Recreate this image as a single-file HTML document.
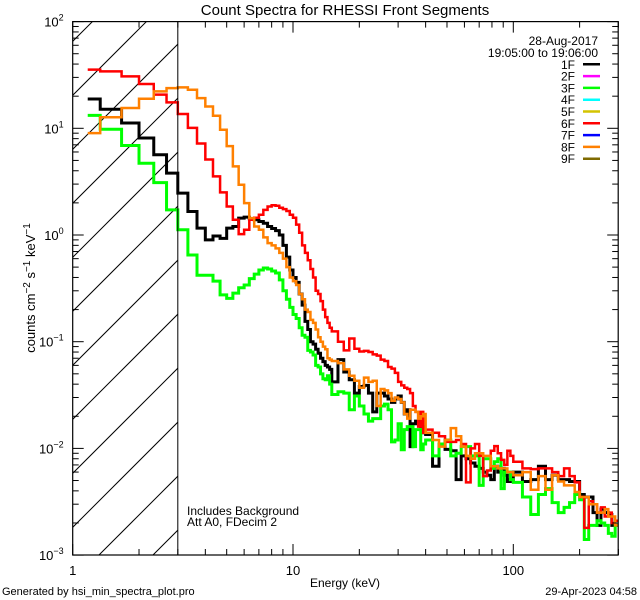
<!DOCTYPE html>
<html><head><meta charset="utf-8">
<style>
html,body{margin:0;padding:0;background:#fff;}
svg{display:block;font-family:"Liberation Sans",sans-serif;}
</style></head>
<body>
<svg id="chart" width="640" height="600" viewBox="0 0 640 600" xmlns="http://www.w3.org/2000/svg">
<defs><clipPath id="plotclip"><rect x="72.7" y="21.6" width="545.5" height="533.4"/></clipPath>
<clipPath id="hatchclip"><rect x="72.7" y="21.6" width="104.8" height="533.4"/></clipPath></defs>
<rect width="640" height="600" fill="#fff"/>
<text x="345" y="15" font-size="15" text-anchor="middle">Count Spectra for RHESSI Front Segments</text>
<g id="hatch" clip-path="url(#hatchclip)"></g>
<g id="series" clip-path="url(#plotclip)"></g>
<g id="axes"></g>
<text transform="translate(35,288) rotate(-90)" font-size="13" text-anchor="middle">counts cm<tspan dy="-5" font-size="10">−2</tspan><tspan dy="5"> s</tspan><tspan dy="-5" font-size="10">−1</tspan><tspan dy="5"> keV</tspan><tspan dy="-5" font-size="10">−1</tspan></text>
<text x="345" y="587" font-size="12" text-anchor="middle">Energy (keV)</text>
<text x="187" y="515" font-size="12">Includes Background</text>
<text x="187" y="526" font-size="12">Att A0, FDecim 2</text>
<text x="2" y="595" font-size="11">Generated by hsi_min_spectra_plot.pro</text>
<text x="637" y="595" font-size="11" text-anchor="end">29-Apr-2023 04:58</text>
<text x="598" y="45" font-size="12" text-anchor="end">28-Aug-2017</text>
<text x="598" y="57" font-size="12" text-anchor="end">19:05:00 to 19:06:00</text>
<g id="legend"></g>
</svg>
<script>
const edges = [1.17,1.3333,1.6667,2,2.3333,2.6667,3,3.3333,3.6667,4,4.3333,4.6667,5,5.3333,5.6667,6,6.3333,6.6667,7,7.3333,7.6667,8,8.3333,8.6667,9,9.3333,9.6667,10,10.3333,10.6667,11,11.3333,11.6667,12,12.3333,12.6667,13,13.3333,13.6667,14,14.3333,14.6667,15,
16,17,18,19,20,21,22,23,24,25,26,27,28,29,30,31,32,33,34,35,36,37,38,39,40,
43,46,49,52,55,58,61,64,67,70,73,76,79,82,85,88,91,94,97,100,
110,120,130,140,150,160,170,180,190,200,210,220,230,240,250,260,270,280,290,300];
const seg1F = [18.8,15.1,11.2,8.1,5.65,3.8,2.47,1.66,1.16,0.90,0.98,0.93,1.16,1.20,1.44,1.47,1.42,1.39,1.34,1.29,1.2,1.15,1.1,1.0,0.8,0.62,0.47,0.4,0.36,0.28,0.22,0.155,0.13,0.1,0.095,0.085,0.078,0.07,0.065,0.06,0.058,0.055,
0.042,0.068,0.052,0.044,0.033,0.038,0.039,0.033,0.022,0.033,0.033,0.031,0.029,0.027,0.029,0.031,0.027,0.021,0.023,0.0104,0.017,0.018,0.018,0.016,0.014,
0.0135,0.0068,0.011,0.0098,0.0095,0.0051,0.0085,0.008,0.0073,0.0068,0.0065,0.006,0.0056,0.0051,0.0068,0.006,0.0065,0.0056,0.0049,0.0051,
0.006,0.0049,0.0051,0.0068,0.0051,0.0056,0.0051,0.0051,0.0049,0.0049,0.0037,0.0035,0.0035,0.0025,0.0019,0.0027,0.0025,0.0024,0.0019,0.0019];
const seg3F = [13.2,9.8,6.9,4.7,3.1,1.72,1.12,0.65,0.42,0.42,0.37,0.275,0.255,0.285,0.32,0.34,0.39,0.43,0.47,0.49,0.48,0.46,0.44,0.38,0.30,0.25,0.21,0.18,0.165,0.135,0.115,0.11,0.083,0.08,0.075,0.06,0.058,0.05,0.045,0.044,0.048,0.04,
0.032,0.034,0.033,0.023,0.031,0.025,0.021,0.018,0.019,0.019,0.025,0.026,0.023,0.0115,0.012,0.017,0.0097,0.015,0.016,0.016,0.0104,0.015,0.015,0.0097,0.011,
0.012,0.0085,0.011,0.012,0.0085,0.009,0.0104,0.0104,0.0085,0.0085,0.0045,0.008,0.008,0.0065,0.0075,0.008,0.0042,0.006,0.006,0.0051,
0.0048,0.0035,0.0024,0.0037,0.0042,0.0031,0.0025,0.0028,0.0031,0.0037,0.0033,0.0014,0.0019,0.0019,0.0021,0.002,0.0019,0.0016,0.0015,0.0019];
const seg6F = [35.5,34.2,30.7,26,20.7,17.5,13.6,10.1,7.2,5.1,3.54,2.51,1.85,1.39,1.02,1.12,1.39,1.45,1.55,1.72,1.85,1.9,1.88,1.8,1.75,1.68,1.55,1.45,1.25,1.05,0.8,0.68,0.58,0.48,0.4,0.3,0.28,0.24,0.2,0.17,0.15,0.135,
0.125,0.10,0.083,0.107,0.086,0.081,0.082,0.08,0.076,0.074,0.068,0.066,0.058,0.056,0.051,0.042,0.039,0.037,0.036,0.033,0.025,0.022,0.016,0.022,0.014,
0.015,0.014,0.013,0.0115,0.0115,0.012,0.011,0.0048,0.010,0.011,0.0085,0.0055,0.0062,0.0095,0.0105,0.009,0.0078,0.007,0.0095,0.0085,
0.0075,0.0065,0.0064,0.0065,0.0065,0.006,0.0055,0.0065,0.0055,0.0048,0.0035,0.0018,0.0032,0.003,0.0025,0.0028,0.0023,0.0025,0.002,0.0021];
const seg8F = [9.0,12.7,15.5,18.9,22.2,23.8,24.2,23.0,19.2,16,13.1,9.7,6.8,4.4,2.96,1.99,1.44,1.2,1.12,0.95,0.84,0.8,0.75,0.68,0.6,0.5,0.4,0.37,0.34,0.28,0.25,0.2,0.19,0.16,0.15,0.13,0.11,0.1,0.09,0.085,0.07,0.068,
0.066,0.063,0.055,0.048,0.043,0.037,0.046,0.042,0.043,0.025,0.036,0.035,0.033,0.028,0.03,0.029,0.027,0.021,0.019,0.023,0.023,0.022,0.019,0.02,0.021,
0.014,0.012,0.0104,0.012,0.0155,0.013,0.0104,0.0085,0.008,0.009,0.009,0.0085,0.0085,0.0068,0.0068,0.0065,0.0065,0.0065,0.006,0.006,
0.0056,0.006,0.0041,0.0055,0.0041,0.0056,0.0049,0.0045,0.0045,0.0039,0.0035,0.0035,0.003,0.003,0.0025,0.0025,0.0027,0.0023,0.0023,0.0019];
const legendLabels = ["1F","2F","3F","4F","5F","6F","7F","8F","9F"];
const legendColors = ["#000000","#ff00ff","#00ff00","#00ffff","#d4c400","#ff0000","#0000ff","#ff8000","#7f6a00"];
const yDecades = [2,1,0,-1,-2,-3];
const xMajor = [1,10,100];

const NS="http://www.w3.org/2000/svg";
const X0=72.7, XD=220.3, Y0=21.6, YD=106.7, XR=618.2, YB=555;
function xs(e){return X0+XD*Math.log10(e);}
function ys(v){return Y0+(2-Math.log10(v))*YD;}
function mk(tag,attrs,parent){const el=document.createElementNS(NS,tag);for(const k in attrs)el.setAttribute(k,attrs[k]);parent.appendChild(el);return el;}

// hatch
const hatch=document.getElementById('hatch');
for(let k=-12;k<4;k++){
  const bx=99+54*k;
  const h=mk('line',{x1:bx,y1:YB,x2:bx+600,y2:YB-600,stroke:'#000','stroke-width':1},hatch);
  
  
}

// series
const seriesG=document.getElementById('series');
function drawSeries(vals,color,name,w){
  let d='';
  const n=Math.min(vals.length,edges.length-1);
  for(let i=0;i<n;i++){
    const y=ys(Math.max(vals[i],1e-4));
    const xa=xs(edges[i]), xb=xs(edges[i+1]);
    d+=(i===0?'M':'L')+xa.toFixed(2)+','+y.toFixed(2)+'L'+xb.toFixed(2)+','+y.toFixed(2);
  }
  const p=mk('path',{d:d,fill:'none',stroke:color,'stroke-width':w,'stroke-linejoin':'miter'},seriesG);
  
  
}
drawSeries(seg1F,'#000000','series-1f',3);
drawSeries(seg3F,'#00ff00','series-3f',3);
drawSeries(seg6F,'#ff0000','series-6f',2.5);
drawSeries(seg8F,'#ff8000','series-8f',2.5);

// 3 keV threshold line
const axes=document.getElementById('axes');
const tl=mk('line',{x1:xs(3),y1:Y0,x2:xs(3),y2:YB,stroke:'#000','stroke-width':1},axes);



// frame
const fr=mk('rect',{x:X0,y:Y0,width:XR-X0,height:YB-Y0,fill:'none',stroke:'#000','stroke-width':1.2},axes);



// y ticks
for(let di=0;di<yDecades.length;di++){
  const dec=yDecades[di];
  const y=ys(Math.pow(10,dec));
  mk('line',{x1:X0,y1:y,x2:X0+11,y2:y,stroke:'#000'},axes);
  mk('line',{x1:XR,y1:y,x2:XR-11,y2:y,stroke:'#000'},axes);
  const t=mk('text',{x:X0-9,y:y+5,'font-size':13,'text-anchor':'end'},axes);
  
  
  t.innerHTML='10<tspan dy="-6" font-size="9">'+(dec<0?'−'+(-dec):dec)+'</tspan>';
  if(dec>-3){for(let m=2;m<10;m++){const ym=ys(m*Math.pow(10,dec-1));
    mk('line',{x1:X0,y1:ym,x2:X0+6,y2:ym,stroke:'#000'},axes);
    mk('line',{x1:XR,y1:ym,x2:XR-6,y2:ym,stroke:'#000'},axes);}}
}
// x ticks
for(let i=0;i<xMajor.length;i++){
  const e=xMajor[i];const x=xs(e);
  mk('line',{x1:x,y1:YB,x2:x,y2:YB-11,stroke:'#000'},axes);
  mk('line',{x1:x,y1:Y0,x2:x,y2:Y0+11,stroke:'#000'},axes);
  const t=mk('text',{x:x,y:575,'font-size':13,'text-anchor':'middle'},axes);
  
  
  t.textContent=String(e);
  for(let m=2;m<10;m++){const v=m*e;if(v>300)break;const xm=xs(v);
    mk('line',{x1:xm,y1:YB,x2:xm,y2:YB-6,stroke:'#000'},axes);
    mk('line',{x1:xm,y1:Y0,x2:xm,y2:Y0+6,stroke:'#000'},axes);}
}

// legend
const lg=document.getElementById('legend');
for(let i=0;i<legendLabels.length;i++){
  const y=64.3+11.8*i;
  const t=mk('text',{x:575,y:y+4.5,'font-size':12,'text-anchor':'end'},lg);
  
  
  t.textContent=legendLabels[i];
  const l=mk('line',{x1:583,y1:y,x2:600,y2:y,stroke:legendColors[i],'stroke-width':2.5},lg);
  
  
}
</script>
</body></html>
